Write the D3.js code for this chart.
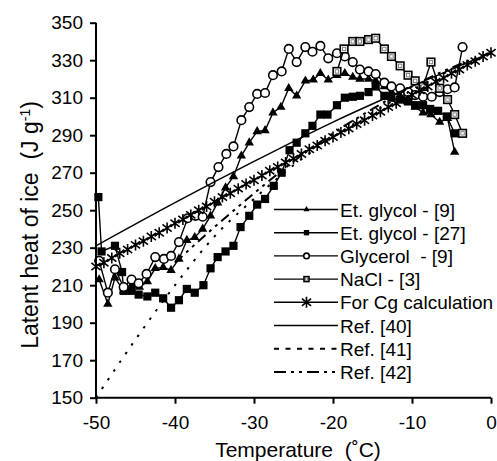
<!DOCTYPE html>
<html>
<head>
<meta charset="utf-8">
<script src="https://cdn.jsdelivr.net/npm/d3@7"></script>
<style>
  body { margin: 0; background: #fff; }
  svg text { font-family: "Liberation Sans", Arial, sans-serif; fill: #000; }
</style>
</head>
<body>
<svg width="497" height="461"></svg>
<script>
// values
let xTicks = [-50, -40, -30, -20, -10, 0];
let yTicks = [150, 170, 190, 210, 230, 250, 270, 290, 310, 330, 350];

let et9T = [-49.6, -48.5, -47.6, -46.5, -45.5, -44.5, -43.5, -42.5, -41.5, -40.5, -39.5, -38.5, -37.5, -36.5, -35.5, -34.6, -33.6, -32.6, -31.6, -30.6, -29.6, -28.6, -27.6, -26.6, -25.6, -24.6, -23.5, -22.5, -21.6, -20.6, -19.5, -18.5, -17.5, -16.6, -15.5, -14.6, -13.5, -12.6, -11.5, -10.5, -9.6, -8.6, -7.6, -6.5, -5.5, -4.6];
let et9L = [213, 200, 214, 207, 210, 209, 212, 219, 219.5, 218, 224, 234, 235.5, 240, 247, 254, 262, 268, 279, 286, 292, 292.5, 302, 305, 315, 311, 319, 319.5, 323, 319.5, 322, 323, 321, 320, 320, 319, 316, 313, 311, 308, 305, 302, 301, 297, 299, 281];

let et27T = [-49.7, -49.3, -47.6, -46.7, -46.5, -45.5, -44.6, -43.5, -42.5, -41.5, -40.5, -39.5, -38.5, -37.5, -36.4, -35.5, -34.6, -33.6, -32.6, -31.7, -30.6, -29.6, -28.6, -27.5, -26.5, -25.5, -24.6, -23.5, -22.6, -21.6, -20.7, -19.5, -18.5, -17.5, -16.6, -15.5, -14.6, -13.5, -12.6, -11.5, -10.5, -9.6, -8.6, -7.7, -6.7, -5.6, -4.6];
let et27L = [257, 228, 231, 217, 207, 207, 205, 204, 206, 203, 198, 202, 208, 206, 210, 219, 225, 228, 231, 241, 247, 253, 256, 263, 270, 282, 286, 291, 295, 301, 301, 306, 310, 310.5, 311, 313, 316, 311, 310, 309, 308, 306, 306, 304, 303, 300, 291];

let glyT = [-49.6, -48.5, -47.6, -46.5, -45.5, -44.6, -43.6, -42.5, -41.4, -40.5, -39.5, -38.4, -37.4, -36.5, -35.5, -34.5, -33.5, -32.6, -31.6, -30.6, -29.6, -28.6, -27.6, -26.5, -25.6, -24.6, -23.5, -22.6, -21.6, -20.6, -19.5, -18.5, -17.5, -16.6, -15.5, -14.6, -13.5, -12.6, -11.5, -10.5, -9.6, -8.6, -7.5, -6.5, -5.5, -4.6, -3.6];
let glyL = [223, 206, 218.5, 209, 213, 211, 216, 225, 224, 225.6, 233, 245.7, 247, 246.5, 265, 273, 280, 284, 298, 305, 312, 312.5, 322, 324, 336, 329, 337, 334.5, 337.6, 331, 333.7, 332, 329, 325, 324, 322.6, 318, 316, 315, 313, 311.4, 310.5, 310.5, 313, 314.5, 315.5, 337];

let naclT = [-19.5, -18.6, -17.5, -16.6, -15.5, -14.6, -13.5, -12.6, -11.5, -10.5, -9.6, -8.6, -7.6, -6.5, -5.5, -4.6, -3.6];
let naclL = [324, 336, 340, 340, 341, 341.7, 336, 332, 327, 322, 319, 316, 329, 315, 309, 301, 291];

let cgT = [-50, -49, -48, -47, -46, -45, -44, -43, -42, -41, -40, -39, -38, -37, -36, -35, -34, -33, -32, -31, -30, -29, -28, -27, -26, -25, -24, -23, -22, -21, -20, -19, -18, -17, -16, -15, -14, -13, -12, -11, -10, -9, -8, -7, -6, -5, -4, -3, -2, -1, 0];
let cgL = [220, 222, 224.5, 227, 229, 231.5, 233.5, 236, 238, 240.5, 243, 245, 247.5, 250, 252, 254.5, 257, 259, 261.5, 264, 266, 268.5, 271, 273, 275.5, 277.5, 280, 282.5, 284.5, 287, 289, 291.5, 293.5, 296, 298, 300.5, 302.5, 305, 307, 309.5, 311.5, 314, 316, 318.5, 320.5, 323, 325, 327.5, 329.5, 332, 334];

let ref40T = [-50, -40, -30, -20, -10, 0];
let ref40L = [231, 254, 276, 297, 316, 334];

let ref41T = [-50, -45, -40, -35, -30, -25, -20, -15, -10, -5, 0];
let ref41L = [150, 181, 210, 236, 256, 274, 289, 302, 314, 325, 334];

let ref42T = [-40, -35, -30, -25, -20, -15, -10, -5, 0];
let ref42L = [222, 241, 259, 276, 291, 304, 316, 326, 334];

let legendNames = ["Et. glycol - [9]", "Et. glycol - [27]", "Glycerol  - [9]", "NaCl - [3]", "For Cg calculation", "Ref. [40]", "Ref. [41]", "Ref. [42]"];

function pairs(ts, ls) {
    return ts.map((t, i) => [t, ls[i]]);
}

let svg = d3.select('svg');

let xScale = d3.scaleLinear().domain([-50, 0]).range([96, 491]);
let yScale = d3.scaleLinear().domain([150, 350]).range([397.7, 22.7]);

let line = d3.line().x(d => xScale(d[0])).y(d => yScale(d[1]));
let smooth = d3.line().x(d => xScale(d[0])).y(d => yScale(d[1])).curve(d3.curveMonotoneX);

let starPath = "M0,-5.5V5.5M-4.6,-3.6L4.6,3.6M-4.6,3.6L4.6,-3.6";

let series = [
    { data: pairs(et9T, et9L), marker: 'tri' },
    { data: pairs(et27T, et27L), marker: 'sq' },
    { data: pairs(glyT, glyL), marker: 'circ' },
    { data: pairs(naclT, naclL), marker: 'hsq' },
    { data: pairs(cgT, cgL), marker: 'star' }
];

let plot = svg.append('g');

function drawMarker(sel, type, big) {
    let k = big ? 1 : 0.65;
    if (type == 'tri') {
        sel.append('path').attr('d', d3.symbol(d3.symbolTriangle, 38 * k * k))
            .style('fill', '#000');
    } else if (type == 'sq') {
        sel.append('rect').attr('x', -4.1 * k).attr('y', -4.1 * k)
            .attr('width', 8.2 * k).attr('height', 8.2 * k).style('fill', '#000');
    } else if (type == 'circ') {
        sel.append('circle').attr('r', 4.3 * k)
            .style('fill', '#fff').style('stroke', '#000').style('stroke-width', 1.6);
    } else if (type == 'hsq') {
        sel.append('rect').attr('x', -3.8 * k).attr('y', -3.8 * k)
            .attr('width', 7.6 * k).attr('height', 7.6 * k)
            .style('fill', '#fff').style('stroke', '#000').style('stroke-width', 1.6);
        sel.append('rect').attr('x', -1.7 * k).attr('y', -1.7 * k)
            .attr('width', 3.4 * k).attr('height', 3.4 * k)
            .style('fill', 'none').style('stroke', '#777').style('stroke-width', 0.9);
    } else if (type == 'star') {
        sel.append('path').attr('d', starPath)
            .style('fill', 'none').style('stroke', '#000').style('stroke-width', 1.6);
    }
}

series.forEach(s => {
    plot.append('path').datum(s.data)
        .attr('d', line)
        .style('fill', 'none').style('stroke', '#000').style('stroke-width', 1.4);
    plot.selectAll(null).data(s.data).enter().append('g')
        .attr('transform', d => 'translate(' + xScale(d[0]) + ',' + yScale(d[1]) + ')')
        .each(function () { drawMarker(d3.select(this), s.marker, true); });
});

// reference curves
plot.append('path').datum(pairs(ref40T, ref40L)).attr('d', smooth)
    .style('fill', 'none').style('stroke', '#000').style('stroke-width', 1.4);
plot.append('path').datum(pairs(ref41T, ref41L)).attr('d', smooth)
    .style('fill', 'none').style('stroke', '#000').style('stroke-width', 2)
    .style('stroke-dasharray', '2.5,8');
plot.append('path').datum(pairs(ref42T, ref42L)).attr('d', smooth)
    .style('fill', 'none').style('stroke', '#000').style('stroke-width', 2)
    .style('stroke-dasharray', '10,5,3,5,3,5');

// axes
let xAxis = d3.axisBottom(xScale).tickValues(xTicks).tickSize(6).tickFormat(d => String(d));
let yAxis = d3.axisLeft(yScale).tickValues(yTicks).tickSize(6).tickFormat(d => String(d));

let gx = svg.append('g').attr('transform', 'translate(0,397.7)').call(xAxis);
let gy = svg.append('g').attr('transform', 'translate(96,0)').call(yAxis);

[gx, gy].forEach(g => {
    g.attr('font-family', null).attr('font-size', null);
    g.select('.domain').style('stroke-width', 2);
    g.selectAll('.tick line').style('stroke-width', 2);
    g.selectAll('text').style('font-size', '19px');
});
gx.select('.domain').attr('d', 'M96,0H491');
gy.select('.domain').attr('d', 'M0,22.7V397.7');
gx.selectAll('text').attr('y', 31).attr('dy', 0);
gy.selectAll('text').attr('x', -13);

// axis titles
svg.append('text')
    .attr('x', 298).attr('y', 457)
    .style('text-anchor', 'middle').style('font-size', '21px')
    .style('white-space', 'pre')
    .text('Temperature  (\u02DAC)');

let yl = svg.append('text')
    .attr('transform', 'translate(38,225) rotate(-90)')
    .style('text-anchor', 'middle').style('font-size', '23px')
    .style('white-space', 'pre');
yl.append('tspan').text('Latent heat of ice  (J g');
yl.append('tspan').attr('dy', -8).style('font-size', '14px').text('-1');
yl.append('tspan').attr('dy', 8).text(')');

// legend
let legend = svg.append('g');
legend.append('rect').attr('x', 270).attr('y', 197).attr('width', 226).attr('height', 186)
    .style('fill', '#fff');

let legendMarkers = ['tri', 'sq', 'circ', 'hsq', 'star', null, null, null];
let legendDash = [null, null, null, null, null, null, '5,6.5', '12,5,3,5,3,5'];

legendNames.forEach((name, i) => {
    let yy = 209.5 + i * 23.2;
    let row = legend.append('g').attr('transform', 'translate(0,' + yy + ')');
    row.append('line').attr('x1', 274).attr('x2', 338).attr('y1', 0).attr('y2', 0)
        .style('stroke', '#000').style('stroke-width', i >= 6 ? 2 : 1.4)
        .style('stroke-dasharray', legendDash[i]);
    if (legendMarkers[i]) {
        let m = row.append('g').attr('transform', 'translate(306.5,0)');
        drawMarker(m, legendMarkers[i], false);
    }
    row.append('text').attr('x', 340).attr('y', 7)
        .style('font-size', '19px').style('white-space', 'pre').text(name);
});
</script>
</body>
</html>
